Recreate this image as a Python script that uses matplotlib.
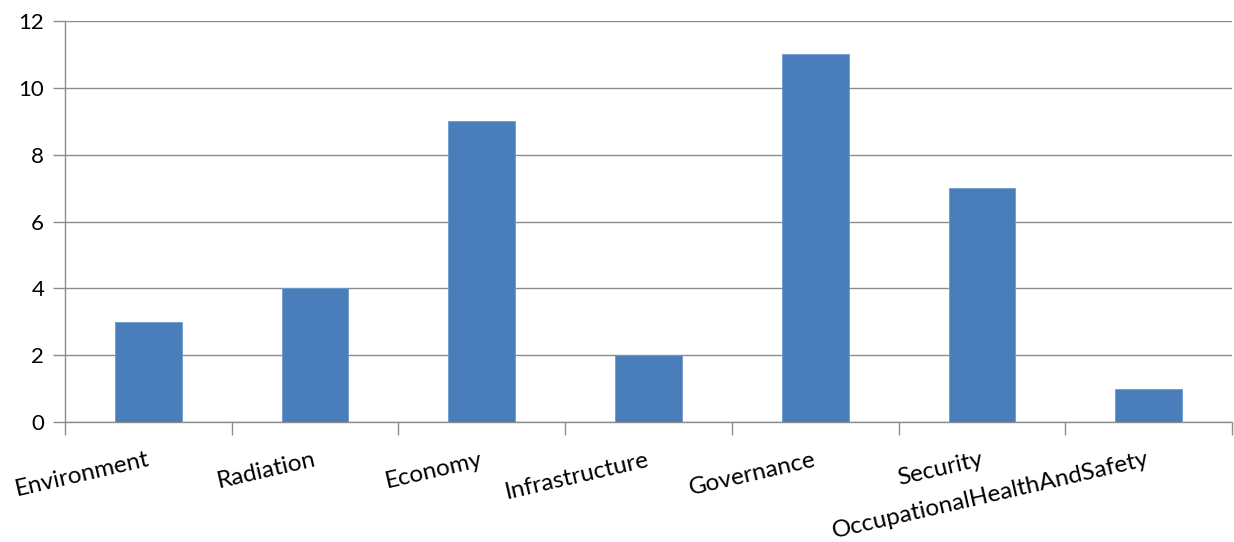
import numpy as np
import matplotlib
matplotlib.use("Agg")
import matplotlib.pyplot as plt

## Data
categories = ["Environment", "Radiation", "Economy", "Infrastructure",
              "Governance", "Security", "OccupationalHealthAndSafety"]
counts = [3, 4, 9, 2, 11, 7, 1]
yticks = [0, 2, 4, 6, 8, 10, 12]

plt.rcParams['font.family'] = ['Lato', 'DejaVu Sans']

fig = plt.figure(figsize=(12.34, 5.42), dpi=100)
ax = fig.add_axes([65/1234, 120/542, 1167/1234, 401/542])

x = np.arange(len(categories))
ax.bar(x, counts, width=0.4, color="#4A7EBB", edgecolor="#6E9AD0", linewidth=0.6, zorder=3)

ax.set_xlim(-0.5, len(categories) - 0.5)
ax.set_ylim(0, 12)
ax.set_yticks(yticks)
ax.set_yticklabels([str(t) for t in yticks], fontsize=16)
ax.yaxis.grid(True, color="#8C8C8C", linewidth=1.0, zorder=0)
ax.tick_params(axis='y', length=9, width=1, color="#8C8C8C", pad=6)

# category ticks at slot boundaries, labels at slot centres
ax.set_xticks(np.arange(len(categories) + 1) - 0.5)
ax.set_xticklabels([])
ax.tick_params(axis='x', length=9, width=1, color="#8C8C8C")
for i, c in enumerate(categories):
    ax.annotate(c, xy=(i, 0), xycoords=('data', 'axes fraction'),
                xytext=(-2, -27), textcoords='offset pixels',
                ha='right', va='top', rotation=13, rotation_mode='anchor',
                fontsize=17.5, color="#000000")

for s in ['top', 'right']:
    ax.spines[s].set_visible(False)
for s in ['left', 'bottom']:
    ax.spines[s].set_color("#8C8C8C")
    ax.spines[s].set_linewidth(1.0)

fig.savefig("out.png", dpi=100)
